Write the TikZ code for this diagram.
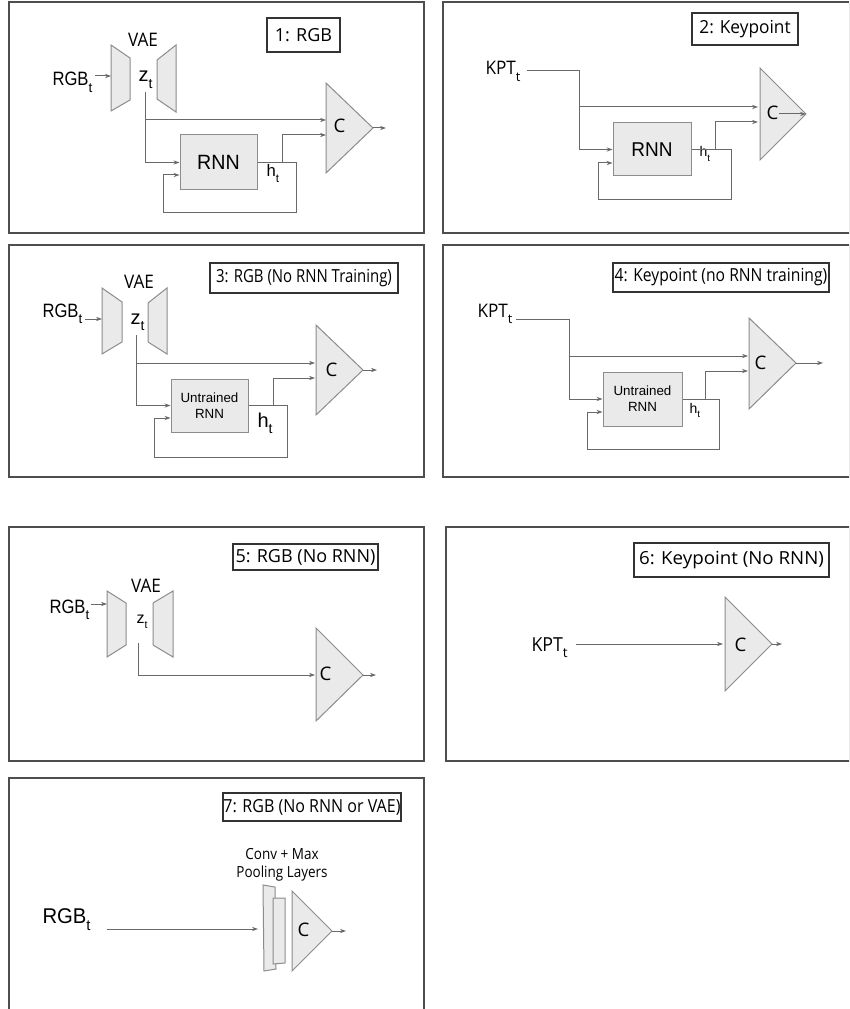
\documentclass[tikz,border=0pt]{standalone}
\usepackage{fontspec}
\usepackage{graphicx}
\setmainfont{Liberation Sans}
\newfontfamily\osans{Open Sans}
\usetikzlibrary{arrows.meta}

\definecolor{framec}{RGB}{78,78,78}
\definecolor{edgec}{RGB}{140,140,140}
\definecolor{fillc}{RGB}{234,234,234}
\definecolor{wirec}{RGB}{105,105,105}

\newcommand{\lowt}{\raisebox{-0.35ex}{\textsubscript{t}}}
\newcommand{\fs}[1]{\fontsize{#1}{1.2\dimexpr#1pt\relax}\selectfont}
\newcommand{\squeeze}[2]{\scalebox{#1}[1]{#2}}

\tikzset{every picture/.style={line width=0.75pt}}
\tikzset{
  panel/.style={draw=framec, line width=1.2pt},
  tag/.style={draw=black!80, line width=0.8pt, inner sep=0pt, font=\osans\fs{13.5}},
  blk/.style={draw=edgec, fill=fillc, line width=0.75pt},
  cell/.style={blk, inner sep=0pt, align=center},
  txt/.style={inner sep=0pt, anchor=base west},
  wire/.style={draw=wirec, line width=0.75pt},
  arr/.style={wire, -{Stealth[length=4.5pt,width=3.2pt]}},
}

\begin{document}
\begin{tikzpicture}[x=0.75pt,y=0.75pt,yscale=-1,xscale=1]
\clip (0,0) rectangle (849,1009);
\fill[white] (0,0) rectangle (849,1009);

%%%%%%%%%%%%%%%% Panel 1: RGB
%Shape: Rectangle [id:panel1]
\draw[panel] (9,2) rectangle (424,233);
% Text Node
\node[tag, minimum width=54.75pt, minimum height=25.5pt] (tag1) at (303.5,35) {1: RGB};
%Shape: Trapezoid [id:enc1]
\draw[blk] (111,45) -- (130,58) -- (130,100) -- (111,111) -- cycle;
%Shape: Trapezoid [id:dec1]
\draw[blk] (157,60) -- (176,45) -- (176,112) -- (157,99) -- cycle;
%Shape: Triangle [id:cls1]
\draw[blk] (326,83) -- (373,128) -- (326,173) -- cycle;
%Shape: Rectangle [id:rnn1]
\node[cell, minimum width=57.75pt, minimum height=41.25pt, font=\fs{15.5}] (rnn1) at (218.5,162.5) {\squeeze{0.95}{RNN}};
% Text Node
\node[txt, font=\fs{14.5}] (rgb1) at (52,86) {\squeeze{0.86}{RGB}\lowt};
\node[font=\osans\fs{14}, inner sep=0pt] (vae1) at (143,40) {\squeeze{0.92}{VAE}};
\node[txt, font=\fs{15}] (z1) at (138,82) {z\lowt};
\node[txt, font=\fs{12.5}] (h1) at (266,177) {h\lowt};
\node[txt, font=\osans\fs{14}] (cl1) at (333,133) {C};
% Connectors
\coordinate (rgb1o) at (95,76);  \coordinate (enc1w) at (111,76);
\coordinate (z1o) at (145,92);   \coordinate (j1) at (145,120);
\coordinate (c1a) at (326,120);  \coordinate (c1b) at (326,135);
\coordinate (hb1) at (282,162.5); \coordinate (fb1) at (296,213);
\coordinate (lp1) at (163,175);  \coordinate (c1t) at (373,128);
\coordinate (o1) at (386,128);
\draw[arr] (rgb1o) -- (enc1w);
\draw[wire] (z1o) -- (j1);
\draw[arr] (j1) -- (c1a);
\draw[arr] (j1) |- (rnn1.west);
\draw[arr] (rnn1.east) -| (fb1) -| (lp1) -- (rnn1.west |- lp1);
\draw[arr] (hb1) |- (c1b);
\draw[arr] (c1t) -- (o1);

%%%%%%%%%%%%%%%% Panel 2: Keypoint
%Shape: Rectangle [id:panel2]
\draw[panel] (443,2) rectangle (849.6,233);
% Text Node
\node[tag, minimum width=79.5pt, minimum height=24pt] (tag2) at (745,29) {\squeeze{0.96}{2: Keypoint}};
%Shape: Triangle [id:cls2]
\draw[blk] (760,68) -- (806,114) -- (760,160) -- cycle;
%Shape: Rectangle [id:rnn2]
\node[cell, minimum width=58.5pt, minimum height=39.75pt, font=\fs{15}] (rnn2) at (652,149.5) {\squeeze{0.95}{RNN}};
% Text Node
\node[txt, font=\osans\fs{14}] (kpt2) at (485,75) {\squeeze{0.92}{KPT}\lowt};
\node[txt, font=\fs{10.5}] (h2) at (699,157) {h\lowt};
\node[txt, font=\osans\fs{14}] (cl2) at (766,120) {C};
% Connectors
\coordinate (kpt2o) at (527,71); \coordinate (j2) at (579,107);
\coordinate (c2a) at (758,107);  \coordinate (c2b) at (758,122);
\coordinate (hb2) at (715,149.5); \coordinate (fb2) at (731,200);
\coordinate (lp2) at (598,163);  \coordinate (c2t) at (806,114);
\draw[wire] (kpt2o) -| (j2);
\draw[arr] (j2) -- (c2a);
\draw[arr] (j2) |- (rnn2.west);
\draw[arr] (rnn2.east) -| (fb2) -| (lp2) -- (rnn2.west |- lp2);
\draw[arr] (hb2) |- (c2b);
\draw[arr] (cl2.east |- c2t) -- (c2t);

%%%%%%%%%%%%%%%% Panel 3: RGB (No RNN Training)
%Shape: Rectangle [id:panel3]
\draw[panel] (9,245) rectangle (424,477);
% Text Node
\node[tag, minimum width=141pt, minimum height=22.5pt] (tag3) at (304,278) {\squeeze{0.83}{3: RGB (No RNN Training)}};
%Shape: Trapezoid [id:enc3]
\draw[blk] (102,288) -- (122,302) -- (122,342) -- (102,354) -- cycle;
%Shape: Trapezoid [id:dec3]
\draw[blk] (148,303) -- (167,288) -- (167,354) -- (148,342) -- cycle;
%Shape: Triangle [id:cls3]
\draw[blk] (316,325) -- (363,370) -- (316,415) -- cycle;
%Shape: Rectangle [id:rnn3]
\node[cell, minimum width=57.75pt, minimum height=39.75pt, font=\fs{10}] (rnn3) at (209.5,405.5) {Untrained\\RNN};
% Text Node
\node[txt, font=\fs{14.5}] (rgb3) at (42,317) {\squeeze{0.86}{RGB}\lowt};
\node[font=\osans\fs{14}, inner sep=0pt] (vae3) at (139,282) {\squeeze{0.92}{VAE}};
\node[txt, font=\fs{15}] (z3) at (130,324) {z\lowt};
\node[txt, font=\fs{15}] (h3) at (257,427) {h\lowt};
\node[txt, font=\osans\fs{14}] (cl3) at (325,376) {C};
% Connectors
\coordinate (rgb3o) at (85,319);  \coordinate (enc3w) at (102,319);
\coordinate (z3o) at (136,335);   \coordinate (j3) at (136,363);
\coordinate (c3a) at (315,363);   \coordinate (c3b) at (315,378);
\coordinate (hb3) at (273,405.5); \coordinate (fb3) at (287,457);
\coordinate (lp3) at (154,418);   \coordinate (c3t) at (363,370);
\coordinate (o3) at (377,370);
\draw[arr] (rgb3o) -- (enc3w);
\draw[wire] (z3o) -- (j3);
\draw[arr] (j3) -- (c3a);
\draw[arr] (j3) |- (rnn3.west);
\draw[arr] (rnn3.east) -| (fb3) -| (lp3) -- (rnn3.west |- lp3);
\draw[arr] (hb3) |- (c3b);
\draw[arr] (c3t) -- (o3);

%%%%%%%%%%%%%%%% Panel 4: Keypoint (no RNN training)
%Shape: Rectangle [id:panel4]
\draw[panel] (443,245) rectangle (849.6,477);
% Text Node
\node[tag, minimum width=162pt, minimum height=21.75pt] (tag4) at (721,277.5) {\squeeze{0.87}{4: Keypoint (no RNN training)}};
%Shape: Triangle [id:cls4]
\draw[blk] (749,318) -- (796,363) -- (749,409) -- cycle;
%Shape: Rectangle [id:rnn4]
\node[cell, minimum width=59.25pt, minimum height=40.5pt, font=\fs{10}] (rnn4) at (642.5,399) {Untrained\\RNN};
% Text Node
\node[txt, font=\osans\fs{14}] (kpt4) at (477,317) {\squeeze{0.92}{KPT}\lowt};
\node[txt, font=\fs{10.5}] (h4) at (689,413) {h\lowt};
\node[txt, font=\osans\fs{14}] (cl4) at (754,369) {C};
% Connectors
\coordinate (kpt4o) at (516,319); \coordinate (j4) at (569,356);
\coordinate (c4a) at (748,356);   \coordinate (c4b) at (748,371);
\coordinate (hb4) at (705,399);   \coordinate (fb4) at (719,449);
\coordinate (lp4) at (587,412);   \coordinate (c4t) at (796,363);
\coordinate (o4) at (823,363);
\draw[wire] (kpt4o) -| (j4);
\draw[arr] (j4) -- (c4a);
\draw[arr] (j4) |- (rnn4.west);
\draw[arr] (rnn4.east) -| (fb4) -| (lp4) -- (rnn4.west |- lp4);
\draw[arr] (hb4) |- (c4b);
\draw[arr] (c4t) -- (o4);

%%%%%%%%%%%%%%%% Panel 5: RGB (No RNN)
%Shape: Rectangle [id:panel5]
\draw[panel] (9,527) rectangle (424,761);
% Text Node
\node[tag, minimum width=108.75pt, minimum height=19.5pt] (tag5) at (305.5,557) {5: RGB (No RNN)};
%Shape: Trapezoid [id:enc5]
\draw[blk] (107,591) -- (126,603) -- (126,645) -- (107,657) -- cycle;
%Shape: Trapezoid [id:dec5]
\draw[blk] (153,603) -- (173,591) -- (173,657) -- (153,645) -- cycle;
%Shape: Triangle [id:cls5]
\draw[blk] (316,628) -- (363,675) -- (316,721) -- cycle;
% Text Node
\node[txt, font=\fs{14.5}] (rgb5) at (49,613) {\squeeze{0.86}{RGB}\lowt};
\node[font=\osans\fs{14}, inner sep=0pt] (vae5) at (146,586) {\squeeze{0.92}{VAE}};
\node[txt, font=\fs{12}] (z5) at (136,623) {z\lowt};
\node[txt, font=\osans\fs{14}] (cl5) at (319,680) {C};
% Connectors
\coordinate (rgb5o) at (91,604); \coordinate (enc5w) at (107,604);
\coordinate (z5o) at (138,643);  \coordinate (c5a) at (315,675);
\coordinate (c5t) at (363,675);  \coordinate (o5) at (376,675);
\draw[arr] (rgb5o) -- (enc5w);
\draw[arr] (z5o) |- (c5a);
\draw[arr] (c5t) -- (o5);

%%%%%%%%%%%%%%%% Panel 6: Keypoint (No RNN)
%Shape: Rectangle [id:panel6]
\draw[panel] (446,527) rectangle (849.6,761);
% Text Node
\node[tag, minimum width=146.25pt, minimum height=25.5pt] (tag6) at (731.5,560) {\squeeze{1.04}{6: Keypoint (No RNN)}};
%Shape: Triangle [id:cls6]
\draw[blk] (725,597) -- (772,644) -- (725,691) -- cycle;
% Text Node
\node[txt, font=\osans\fs{14.5}] (kpt6) at (531,651) {\squeeze{0.92}{KPT}\lowt};
\node[txt, font=\osans\fs{14}] (cl6) at (734,651) {C};
% Connectors
\coordinate (kpt6o) at (576,644); \coordinate (c6a) at (723,644);
\coordinate (c6t) at (772,644);   \coordinate (o6) at (782,644);
\draw[arr] (kpt6o) -- (c6a);
\draw[arr] (c6t) -- (o6);

%%%%%%%%%%%%%%%% Panel 7: RGB (No RNN or VAE)
%Shape: Rectangle [id:panel7]
\draw[panel] (9,778) rectangle (424,1015);
% Text Node
\node[tag, minimum width=133.5pt, minimum height=21pt] (tag7) at (312,807) {\squeeze{0.89}{7: RGB (No RNN or VAE)}};
%Shape: Polygon [id:layer7a]
\draw[blk] (263,885) -- (275,887) -- (276,969) -- (264,971) -- cycle;
%Shape: Rectangle [id:layer7b]
\draw[blk] (273,898) -- (285,898) -- (285,963) -- (273,964) -- cycle;
%Shape: Triangle [id:cls7]
\draw[blk] (292,891) -- (332,931) -- (292,971) -- cycle;
% Text Node
\node[font=\osans\fs{11.5}, inner sep=0pt, align=center] (conv7) at (282,865) {\squeeze{0.88}{Conv + Max}\\\squeeze{0.88}{Pooling Layers}};
\node[txt, font=\fs{16}] (rgb7) at (42,923) {\squeeze{0.95}{RGB}\lowt};
\node[txt, font=\osans\fs{14}] (cl7) at (297,936) {C};
% Connectors
\coordinate (rgb7o) at (107,929); \coordinate (lay7w) at (258,929);
\coordinate (c7t) at (332,931);   \coordinate (o7) at (346,931);
\draw[arr] (rgb7o) -- (lay7w);
\draw[arr] (c7t) -- (o7);

\end{tikzpicture}
\end{document}
